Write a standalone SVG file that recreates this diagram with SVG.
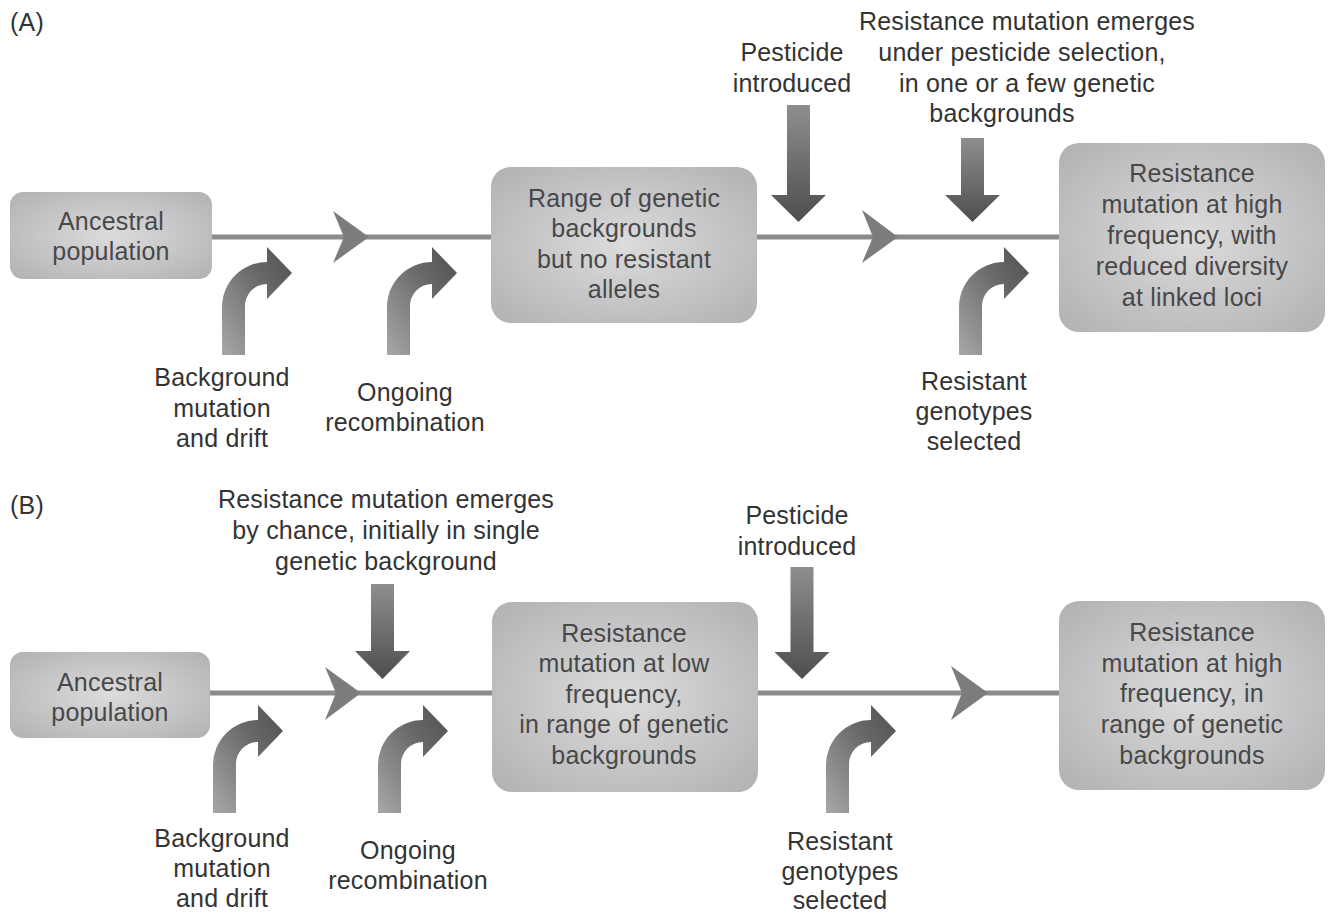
<svg xmlns="http://www.w3.org/2000/svg" width="1330" height="914" viewBox="0 0 1330 914">
<defs>
<radialGradient id="boxg" cx="0.5" cy="0.5" r="0.65">
<stop offset="0" stop-color="#dcdcdd"/>
<stop offset="1" stop-color="#b4b4b6"/>
</radialGradient>
<linearGradient id="downg" x1="0" y1="0" x2="0" y2="1">
<stop offset="0" stop-color="#8e8e90"/>
<stop offset="1" stop-color="#4e4e50"/>
</linearGradient>
<linearGradient id="curveg" x1="0" y1="1" x2="1" y2="0">
<stop offset="0" stop-color="#a8a8aa"/>
<stop offset="0.6" stop-color="#6a6a6c"/>
<stop offset="1" stop-color="#505052"/>
</linearGradient>
<path id="curve" d="M0,0 L0,-48 A45,45 0 0 1 45,-93 L45,-108 L70,-82 L45,-56 L45,-71 A22,22 0 0 0 23,-48 L23,0 Z"/>
</defs>
<style>
text{font-family:"Liberation Sans",Arial,Helvetica,sans-serif;font-size:25px;letter-spacing:0.2px;text-anchor:middle;fill:#333333}
.in{fill:#484848}
.lbl{text-anchor:start}
.box{fill:url(#boxg)}
.line{stroke:#8b8b8d;stroke-width:5;fill:none}
.tri{fill:#7c7c7f}
.down{fill:url(#downg)}
.cv{fill:url(#curveg)}
</style>
<rect width="1330" height="914" fill="#ffffff"/>

<g id="connectors">
<line class="line" x1="212" y1="237" x2="1062" y2="237"/>
<path class="tri" d="M333,211 L369,237 L333,263 L344,237 Z"/>
<path class="tri" d="M862,210 L898,237 L862,263 L873,237 Z"/>
<line class="line" x1="210" y1="693" x2="1062" y2="693"/>
<path class="tri" d="M325,667 L361,693 L325,720 L336,693 Z"/>
<path class="tri" d="M951,666 L988,693 L951,720 L962,693 Z"/>
</g>

<g id="labelA"><text class="lbl" x="10" y="31">(A)</text></g>
<g id="labelB"><text class="lbl" x="10" y="514">(B)</text></g>

<g id="a-ancestral">
<rect class="box" x="10" y="192" width="202" height="87" rx="13"/>
<text class="in" x="111" y="230">Ancestral</text>
<text class="in" x="111" y="260">population</text>
</g>
<g id="a-range">
<rect class="box" x="491" y="167" width="266" height="156" rx="20"/>
<text class="in" x="624" y="207">Range of genetic</text>
<text class="in" x="624" y="237">backgrounds</text>
<text class="in" x="624" y="268">but no resistant</text>
<text class="in" x="624" y="298">alleles</text>
</g>
<g id="a-high">
<rect class="box" x="1059" y="143" width="266" height="189" rx="20"/>
<text class="in" x="1192" y="182">Resistance</text>
<text class="in" x="1192" y="213">mutation at high</text>
<text class="in" x="1192" y="244">frequency, with</text>
<text class="in" x="1192" y="275">reduced diversity</text>
<text class="in" x="1192" y="306">at linked loci</text>
</g>
<g id="a-pesticide">
<path class="down" d="M787,105 L810,105 L810,195 L826,195 L798.5,222 L771,195 L787,195 Z"/>
<text x="792" y="61">Pesticide</text>
<text x="792" y="92">introduced</text>
</g>
<g id="a-emerges">
<path class="down" d="M961,138 L984,138 L984,195 L1000,195 L972.5,222 L945,195 L961,195 Z"/>
<text x="1027" y="30">Resistance mutation emerges</text>
<text x="1022" y="61">under pesticide selection,</text>
<text x="1027" y="92">in one or a few genetic</text>
<text x="1002" y="122">backgrounds</text>
</g>
<g id="a-background">
<use href="#curve" class="cv" x="222" y="355"/>
<text x="222" y="386">Background</text>
<text x="222" y="417">mutation</text>
<text x="222" y="447">and drift</text>
</g>
<g id="a-recomb">
<use href="#curve" class="cv" x="387" y="355"/>
<text x="405" y="401">Ongoing</text>
<text x="405" y="431">recombination</text>
</g>
<g id="a-resistant">
<use href="#curve" class="cv" x="959" y="355"/>
<text x="974" y="390">Resistant</text>
<text x="974" y="420">genotypes</text>
<text x="974" y="450">selected</text>
</g>

<g id="b-ancestral">
<rect class="box" x="10" y="652" width="200" height="86" rx="13"/>
<text class="in" x="110" y="691">Ancestral</text>
<text class="in" x="110" y="721">population</text>
</g>
<g id="b-low">
<rect class="box" x="492" y="602" width="266" height="190" rx="20"/>
<text class="in" x="624" y="642">Resistance</text>
<text class="in" x="624" y="672">mutation at low</text>
<text class="in" x="624" y="703">frequency,</text>
<text class="in" x="624" y="733">in range of genetic</text>
<text class="in" x="624" y="764">backgrounds</text>
</g>
<g id="b-high">
<rect class="box" x="1059" y="601" width="266" height="189" rx="20"/>
<text class="in" x="1192" y="641">Resistance</text>
<text class="in" x="1192" y="672">mutation at high</text>
<text class="in" x="1192" y="702">frequency, in</text>
<text class="in" x="1192" y="733">range of genetic</text>
<text class="in" x="1192" y="764">backgrounds</text>
</g>
<g id="b-emerges">
<path class="down" d="M371,584 L394,584 L394,651 L410,651 L382.5,679 L355,651 L371,651 Z"/>
<text x="386" y="508">Resistance mutation emerges</text>
<text x="386" y="539">by chance, initially in single</text>
<text x="386" y="570">genetic background</text>
</g>
<g id="b-pesticide">
<path class="down" d="M790.5,567 L813.5,567 L813.5,652 L829.5,652 L802,679 L774.5,652 L790.5,652 Z"/>
<text x="797" y="524">Pesticide</text>
<text x="797" y="555">introduced</text>
</g>
<g id="b-background">
<use href="#curve" class="cv" x="213" y="813"/>
<text x="222" y="847">Background</text>
<text x="222" y="877">mutation</text>
<text x="222" y="907">and drift</text>
</g>
<g id="b-recomb">
<use href="#curve" class="cv" x="378" y="813"/>
<text x="408" y="859">Ongoing</text>
<text x="408" y="889">recombination</text>
</g>
<g id="b-resistant">
<use href="#curve" class="cv" x="826" y="813"/>
<text x="840" y="850">Resistant</text>
<text x="840" y="880">genotypes</text>
<text x="840" y="909">selected</text>
</g>
</svg>
